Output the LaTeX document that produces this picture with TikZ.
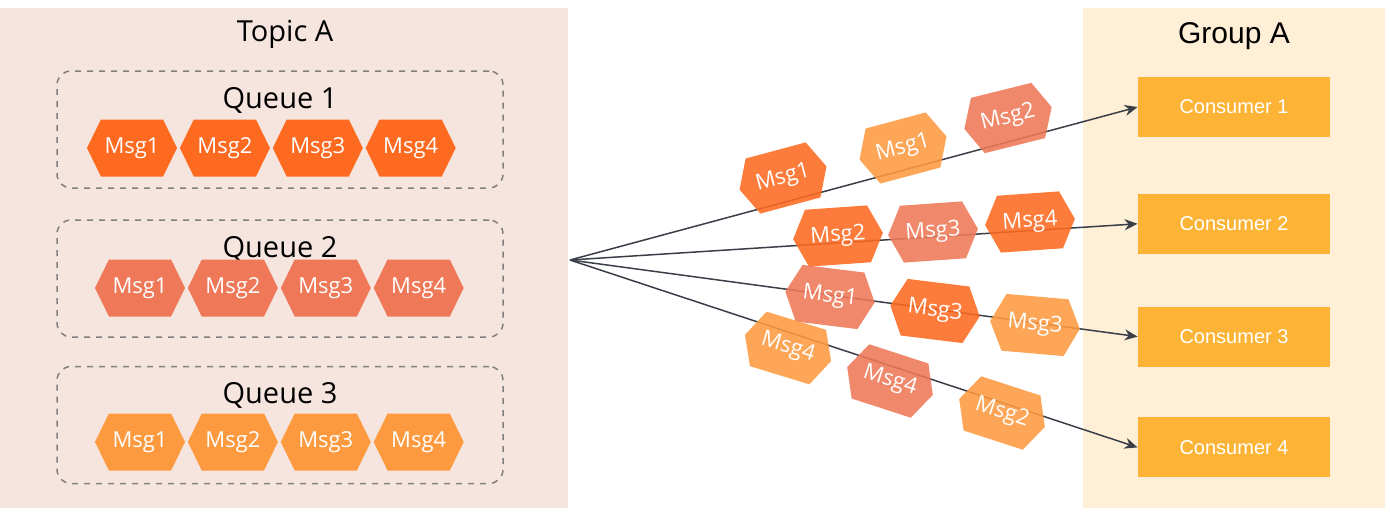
\documentclass[tikz,border=0pt]{standalone}
\usepackage{fontspec}
\setmainfont{Open Sans}
\newfontfamily\grpfont{Liberation Sans}
\usetikzlibrary{arrows.meta, positioning, shapes.symbols}
\definecolor{topicbg}{HTML}{F6E5DE}
\definecolor{groupbg}{HTML}{FEEFD6}
\definecolor{msgdark}{HTML}{FD6A20}
\definecolor{msgmid}{HTML}{EE7858}
\definecolor{msglight}{HTML}{FD9A40}
\definecolor{consbg}{HTML}{FDB436}
\definecolor{linegray}{HTML}{3A3F47}
\definecolor{dashgray}{HTML}{808080}
\tikzset{
    panel/.style={
        rectangle, inner sep=0pt,
        minimum height=250pt
    },
    queuebox/.style={
        rectangle, draw=dashgray, dashed, line width=0.75pt,
        rounded corners=7pt,
        minimum width=223pt, minimum height=58.5pt
    },
    title/.style={font=\fontsize{14.5}{16}\selectfont},
    msg/.style={
        signal, signal from=nowhere, signal to={east and west},
        signal pointer angle=128,
        minimum width=45pt, minimum height=28.5pt,
        inner sep=0pt, text=white,
        font=\fontsize{11}{12}\selectfont
    },
    msgfly/.style={msg, fill opacity=.88, text opacity=1},
    consumer/.style={
        rectangle, fill=consbg, inner sep=0pt,
        minimum width=96pt, minimum height=30pt,
        text=white, font=\grpfont\fontsize{10}{12}\selectfont
    },
    conn/.style={
        draw=linegray, line width=0.75pt,
        -{Stealth[length=6.5pt, width=5.5pt]}
    },
}
\begin{document}
\begin{tikzpicture}[x=0.5pt, y=-0.5pt]
    \useasboundingbox (0,0) rectangle (1390,514);

    % topic side
    \node[panel, fill=topicbg, minimum width=284pt] (topic) at (284,258) {};
    \node[title] (topicl) at (285,34) {Topic A};
    \foreach \q/\y/\mx/\my/\c in {1/129.5/132/148/msgdark,
                                 2/278.5/140/288/msgmid,
                                 3/425/140/442/msglight}{
        \node[queuebox] (queue\q) at (280,\y) {};
        \node[title, below=5pt of queue\q.north] (queuel\q) {Queue \q};
        \node[msg, fill=\c] (q\q m1) at (\mx,\my) {Msg1};
        \foreach \k [remember=\k as \j (initially 1)] in {2,3,4}
            \node[msg, fill=\c, right=1pt of q\q m\j] (q\q m\k) {Msg\k};
    }

    % group side
    \node[panel, fill=groupbg, minimum width=151pt] (group) at (1234,258) {};
    \node[title, font=\grpfont\fontsize{15}{17}\selectfont] (groupl) at (1234,36) {Group A};
    \node[consumer] (c1) at (1234,107) {Consumer 1};
    \node[consumer, below=28pt of c1] (c2) {Consumer 2};
    \node[consumer, below=26pt of c2] (c3) {Consumer 3};
    \node[consumer, below=25pt of c3] (c4) {Consumer 4};

    % delivery lines
    \coordinate (src) at (570,260);
    \foreach \i in {1,...,4}
        \draw[conn] (src) -- (c\i.west);

    % messages in flight
    \foreach \nm/\x/\y/\r/\c/\t in {
            f1a/783/178/15/msgdark/Msg1, f1b/903/148/15/msglight/Msg1,
            f1c/1008/118/14/msgmid/Msg2,
            f2a/838/236/4/msgdark/Msg2, f2b/933/232/4/msgmid/Msg3,
            f2c/1030/222/4/msgdark/Msg4,
            f3a/830/297/-7/msgmid/Msg1, f3b/935/311/-7/msgdark/Msg3,
            f3c/1035/325/-5/msglight/Msg3,
            f4a/788/348/-17/msglight/Msg4, f4b/890/381/-18/msgmid/Msg4,
            f4c/1002/413/-18/msglight/Msg2}
        \node[msgfly, fill=\c, rotate=\r] (\nm) at (\x,\y) {\t};
\end{tikzpicture}
\end{document}
